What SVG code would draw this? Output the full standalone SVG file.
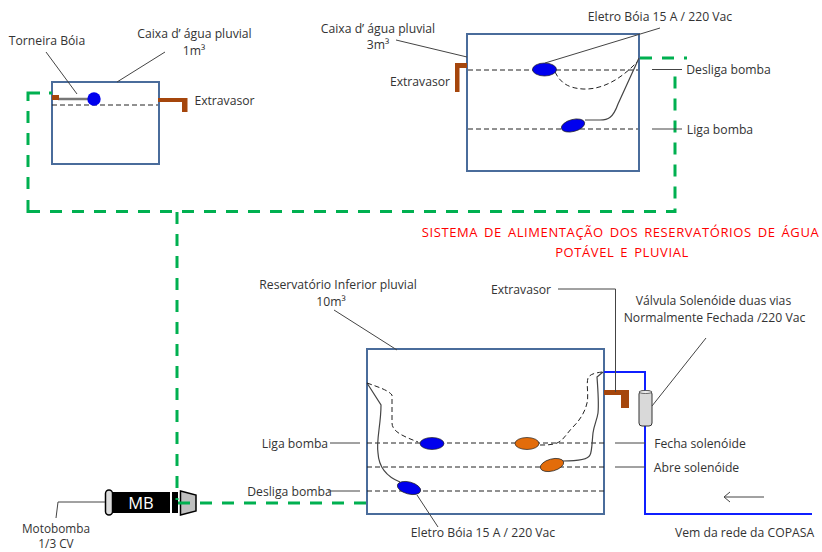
<svg xmlns="http://www.w3.org/2000/svg" width="822" height="552" viewBox="0 0 822 552">
<defs><style>
text{font-family:"Open Sans","Liberation Sans",sans-serif;font-size:12.2px;fill:#333;text-anchor:middle}
.red{fill:#f00;font-size:13px;letter-spacing:.6px;word-spacing:2px}
.tank{fill:#fff;stroke:#4a6c9b;stroke-width:2}
.lead{fill:none;stroke:#444;stroke-width:1}
.wire{fill:none;stroke:#444;stroke-width:1.2}
.dash{fill:none;stroke:#222;stroke-width:1;stroke-dasharray:5 3}
.green{fill:none;stroke:#00b050;stroke-width:3;stroke-dasharray:12 10}
.greensolid{fill:none;stroke:#00b050;stroke-width:3}
.over{fill:#a5460c}
.blue{fill:#0000ee;stroke:#222;stroke-width:.7}
.orange{fill:#e36c0a;stroke:#222;stroke-width:.7}
.pipe{fill:none;stroke:#0f1fff;stroke-width:2}
</style></defs>
<rect width="822" height="552" fill="#fff"/>
<g id="tank-1m3">
<rect class="tank" x="52" y="82" width="107" height="82"/>
<path class="dash" d="M52 105H158"/>
<path d="M58 99H88" stroke="#777" stroke-width="2.500"/>
<path class="over" d="M52 95H59V100H52Z"/>
<circle cx="94" cy="99" r="6.700" fill="#0000ee"/>
<path class="over" d="M158 98H187.500V112H182V102H158Z"/>
</g>
<g id="tank-3m3">
<rect class="tank" x="467" y="34" width="172" height="137"/>
<path class="dash" d="M468 70H638M468 129H638"/>
<path class="over" d="M467 63H455V92H459.500V68H467Z"/>
<path class="wire" d="M639 58L618 104C613 118 608 120 600 120H585"/>
<path class="dash" d="M555 72C560 82 567 88 583 89C603 90 622 78 637 62"/>
<ellipse class="blue" cx="544.500" cy="69.500" rx="12" ry="6.500"/>
<ellipse class="blue" cx="573" cy="125.500" rx="12" ry="6" transform="rotate(-15 573 125.500)"/>
</g>
<g id="tank-10m3">
<rect class="tank" x="367" y="349" width="237" height="165"/>
<path class="dash" d="M367 443H604M367 467H604M367 491H604"/>
<path class="over" d="M604 390H629V408H621V395H604Z"/>
<path class="wire" d="M367 383L381 405C381 425 376 440 378 453C379 470 390 478 400 482"/>
<path class="dash" d="M367 383C378 387 388 390 392 395V423C392 432 405 437 418 442"/>
<path class="wire" d="M603 372L597 377C598 390 599 403 598 413C597 420 594 425 593 433C592 442 592 452 590 455C588 460 575 461 563 461"/>
<path class="dash" d="M602 372C595 373 590 374 588 378C586 385 589 395 587 403C585 412 580 420 573 427C566 434 564 440 557 443C552 445 546 445 540 445"/>
<ellipse class="blue" cx="432" cy="443.500" rx="12" ry="6"/>
<ellipse class="orange" cx="527" cy="443.500" rx="12" ry="6"/>
<ellipse class="orange" cx="552" cy="465" rx="12" ry="6" transform="rotate(-15 552 465)"/>
<ellipse class="blue" cx="409" cy="488" rx="12" ry="6" transform="rotate(15 409 488)"/>
</g>
<g id="water-supply">
<path class="pipe" d="M604 372H645V514H812"/>
</g>
<g id="solenoid-valve">
<rect x="639" y="391" width="13" height="35" rx="3" fill="#d9d9d9" stroke="#333" stroke-width="1"/>
<ellipse cx="645.500" cy="392" rx="6.500" ry="1.500" fill="#eee" stroke="#333" stroke-width=".7"/>
</g>
<g id="motor-pump">
<rect x="105.500" y="490" width="7" height="25" rx="3.500" fill="#ddd" stroke="#000" stroke-width="1.500"/>
<rect x="112" y="492" width="58" height="21" fill="#000"/>
<rect x="172" y="492" width="6" height="21" fill="#000"/>
<path d="M180.500 491L196 495V511L180.500 515Z" fill="#bfbfbf" stroke="#000" stroke-width="1.500"/>
<text x="141" y="508.500" style="fill:#fff;font-size:16.500px">MB</text>
</g>
<g id="connectors">
<path class="greensolid" d="M40 93H28V101M49 93H52M28 200V211.500H40"/>
<path class="green" d="M28 111V195"/>
<path class="green" d="M50 211.500H675V67"/>
<path class="green" d="M640 58H687"/>
<path class="green" d="M177 212V500"/>
<path class="green" d="M178 503H366"/>
<path class="lead" d="M46 52L77 94M165 52L117 82"/>
<path class="lead" d="M396 40L467 57M660 28L545 63"/>
<path class="lead" d="M652 69.500H682M652 129H682"/>
<path class="lead" d="M330 443H360M615 443H645M615 467H645"/>
<path class="lead" d="M328 491H360"/>
<path class="lead" stroke-width="1.500" d="M558 289H615.500V392"/>
<path class="lead" d="M334 310L397 350"/>
<path class="lead" d="M652 406L706 338"/>
<path class="lead" d="M105 502H58L56 518"/>
<path class="lead" d="M417 495L438 527"/>
<path class="lead" d="M764 497H724M730 492L724 497L730 502"/>
</g>
<g id="labels">
<text x="47" y="45">Torneira Bóia</text>
<text x="194.500" y="38">Caixa d’ água pluvial</text>
<text x="194" y="55">1m³</text>
<text x="224.500" y="105">Extravasor</text>
<text x="378" y="33">Caixa d’ água pluvial</text>
<text x="378" y="49">3m³</text>
<text x="420" y="86">Extravasor</text>
<text x="660" y="21">Eletro Bóia 15 A / 220 Vac</text>
<text x="728.500" y="74">Desliga bomba</text>
<text x="720" y="134">Liga bomba</text>
<text class="red" x="620.500" y="237">SISTEMA DE ALIMENTAÇÃO DOS RESERVATÓRIOS  DE ÁGUA</text>
<text class="red" x="622" y="257">POTÁVEL E PLUVIAL</text>
<text x="338" y="289">Reservatório Inferior pluvial</text>
<text x="331" y="306">10m³</text>
<text x="521" y="294">Extravasor</text>
<text x="713.500" y="305">Válvula Solenóide duas vias</text>
<text x="714.500" y="322">Normalmente Fechada /220 Vac</text>
<text x="295" y="448">Liga bomba</text>
<text x="289.500" y="496">Desliga bomba</text>
<text x="700" y="448">Fecha solenóide</text>
<text x="696.500" y="472">Abre solenóide</text>
<text x="483" y="537">Eletro Bóia 15 A / 220 Vac</text>
<text x="744.500" y="537">Vem da rede da COPASA</text>
<text x="56" y="533" style="font-size:11.800px">Motobomba</text>
<text x="56" y="548" style="font-size:11.800px">1/3 CV</text>
</g>
</svg>
